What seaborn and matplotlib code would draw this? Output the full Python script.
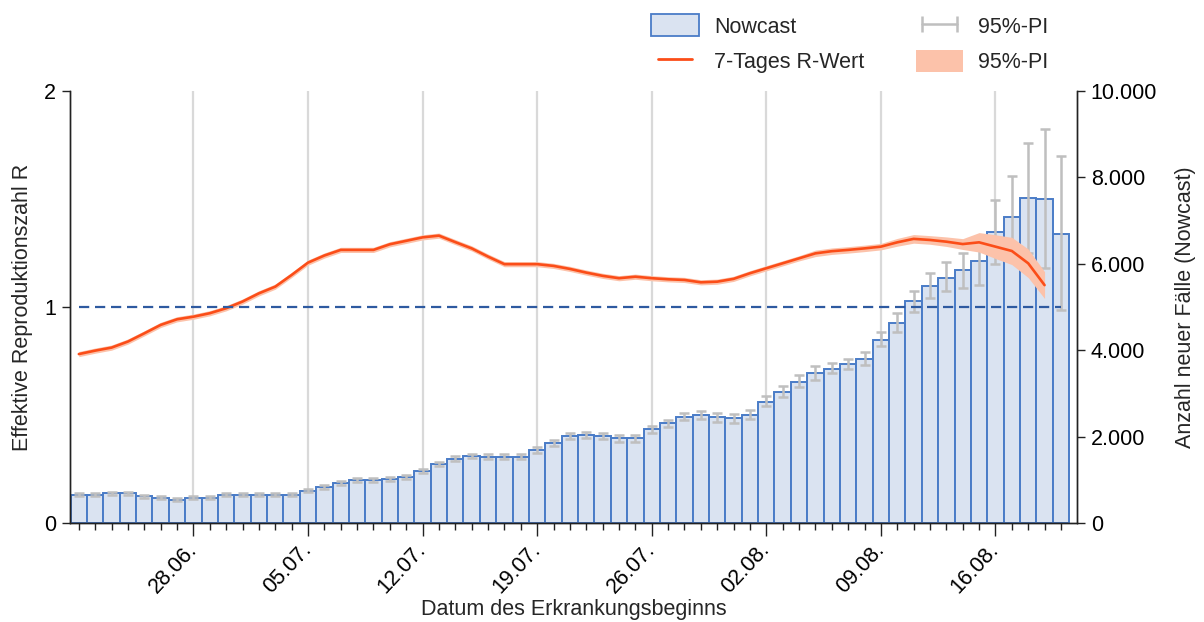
import numpy as np
import pandas as pd
import matplotlib
matplotlib.use("Agg")
import matplotlib.pyplot as plt
from matplotlib.patches import Patch
from matplotlib.lines import Line2D
from matplotlib.ticker import FuncFormatter
import seaborn as sns

# Daten
days = pd.date_range("2020-06-21", "2020-08-20", freq="D")

cases = [650, 650, 690, 690, 620, 580, 540, 580, 580, 650,
         650, 650, 650, 650, 750, 840, 930, 995, 995, 1018,
         1070, 1210, 1370, 1490, 1550, 1535, 1535, 1535, 1690, 1860,
         2014, 2037, 2014, 1960, 1960, 2168, 2307, 2461, 2500, 2446,
         2423, 2500, 2808, 3040, 3272, 3465, 3560, 3678, 3793, 4225,
         4626, 5127, 5490, 5667, 5860, 6052, 6723, 7078, 7517, 7494,
         6692]

pi_low = [620, 620, 660, 660, 590, 550, 510, 550, 550, 620,
          620, 620, 620, 620, 715, 800, 890, 955, 955, 975,
          1025, 1165, 1320, 1440, 1495, 1480, 1480, 1480, 1630, 1795,
          1945, 1965, 1940, 1885, 1885, 2090, 2225, 2375, 2410, 2350,
          2325, 2400, 2700, 2920, 3140, 3320, 3470, 3560, 3660, 4090,
          4430, 4880, 5200, 5360, 5440, 5510, 6000, 6300, 6250, 5900,
          4930]

pi_high = [690, 690, 730, 730, 660, 620, 580, 620, 620, 690,
           690, 690, 690, 690, 790, 885, 975, 1040, 1040, 1065,
           1120, 1260, 1420, 1545, 1610, 1595, 1595, 1595, 1755, 1930,
           2090, 2115, 2090, 2040, 2045, 2250, 2395, 2550, 2595, 2545,
           2525, 2610, 2930, 3175, 3420, 3630, 3700, 3800, 3950, 4420,
           4860, 5360, 5780, 6030, 6250, 6400, 7480, 8020, 8790, 9110,
           8500]

r_value = [0.782, 0.798, 0.812, 0.840, 0.878, 0.917, 0.943, 0.955, 0.971, 0.994,
           1.025, 1.063, 1.094, 1.148, 1.205, 1.238, 1.264, 1.264, 1.264, 1.290,
           1.306, 1.322, 1.330, 1.300, 1.271, 1.233, 1.198, 1.198, 1.198, 1.190,
           1.176, 1.159, 1.144, 1.133, 1.140, 1.133, 1.128, 1.125, 1.114, 1.117,
           1.130, 1.156, 1.179, 1.202, 1.225, 1.248, 1.258, 1.264, 1.271, 1.279,
           1.299, 1.315, 1.310, 1.302, 1.291, 1.299, 1.279, 1.259, 1.202, 1.101]

r_pi_half = [
    0.012, 0.012, 0.012, 0.012, 0.012, 0.012, 0.012, 0.012, 0.012, 0.012,
    0.012, 0.012, 0.012, 0.012, 0.012, 0.012, 0.012, 0.012, 0.012, 0.012,
    0.012, 0.012, 0.012, 0.012, 0.012, 0.012, 0.012, 0.012, 0.012, 0.012,
    0.012, 0.012, 0.012, 0.012, 0.012, 0.012, 0.012, 0.012, 0.012, 0.012,
    0.012, 0.012, 0.012, 0.012, 0.012, 0.015, 0.015, 0.015, 0.015, 0.015,
    0.018, 0.020, 0.020, 0.022, 0.025, 0.045, 0.055, 0.063, 0.066, 0.062]

df = pd.DataFrame({"pos": np.arange(len(days)), "cases": cases,
                   "lo": pi_low, "hi": pi_high})
r_df = pd.DataFrame({"pos": np.arange(len(r_value)), "r": r_value,
                     "half": r_pi_half})

bar_face = "#dae3f1"
bar_edge = "#4a7cc7"
line_col = "#fb4d18"
band_col = "#fcc2aa"
err_col = "#bfbfbf"
dash_col = "#2e5aa0"

sns.set_style("ticks")
plt.rcParams["font.family"] = ["Liberation Sans", "DejaVu Sans"]
fs = 15.5
plt.rcParams["font.size"] = fs

fig = plt.figure(figsize=(12.04, 6.22), dpi=100)
ax = fig.add_axes([0.058, 0.159, 0.8365, 0.695])
ax2 = ax.twinx()
ax.set_zorder(ax2.get_zorder() + 1)
ax.patch.set_visible(False)

# wöchentliche Gitterlinien (Sonntage, ohne den ersten Tag)
major = [i for i, d in enumerate(days) if d.dayofweek == 6 and i > 0]
for p in major:
    ax2.axvline(p, color="#d9d9d9", lw=1.6, zorder=0)

sns.barplot(data=df, x="pos", y="cases", native_scale=True, width=1.0,
            color=bar_face, saturation=1, edgecolor=bar_edge, linewidth=1.4,
            errorbar=None, ax=ax2, zorder=1)
ax2.errorbar(df["pos"], df["cases"],
             yerr=[df["cases"] - df["lo"], df["hi"] - df["cases"]],
             fmt="none", ecolor=err_col, elinewidth=1.8, capsize=3.5,
             capthick=1.8, zorder=3)

ax.fill_between(r_df["pos"], r_df["r"] - r_df["half"], r_df["r"] + r_df["half"],
                color=band_col, linewidth=0, zorder=2)
sns.lineplot(data=r_df, x="pos", y="r", color=line_col, linewidth=1.9, ax=ax,
             zorder=3)
ax.hlines(1.0, df["pos"].iloc[0], df["pos"].iloc[-1], colors=dash_col,
          linewidth=1.6, linestyles=(0, (4.6, 2.6)), zorder=4)

ax.set_xlim(-0.55, 60.98)
ax.set_ylim(0, 2)
ax2.set_ylim(0, 10000)

ax.set_xticks(major)
ax.set_xticklabels([days[i].strftime("%d.%m.") for i in major], rotation=47,
                   ha="right", va="center", rotation_mode="anchor")
ax.set_xticks(df["pos"], minor=True)
ax.set_yticks([0, 1, 2])
ax.set_yticklabels(["0", "1", "2"])
ax2.set_yticks(range(0, 10001, 2000))
ax2.yaxis.set_major_formatter(FuncFormatter(lambda v, p: f"{int(v):,}".replace(",", ".")))

ax.tick_params(axis="x", which="major", length=9, width=1, pad=8, colors="#222222",
               labelcolor="black", labelsize=fs)
ax.tick_params(axis="x", which="minor", length=5, width=1, colors="#222222")
ax.tick_params(axis="y", length=6, width=1, pad=4, colors="#222222",
               labelcolor="black", labelsize=fs)
ax2.tick_params(axis="y", length=6, width=1, pad=4, colors="#222222",
                labelcolor="black", labelsize=fs)

for a in (ax, ax2):
    a.spines["top"].set_visible(False)
    for s in ("left", "right", "bottom"):
        a.spines[s].set_color("#222222")
        a.spines[s].set_linewidth(1.0)

ax.set_xlabel("Datum des Erkrankungsbeginns", labelpad=1, fontsize=fs)
ax.set_ylabel("Effektive Reproduktionszahl R", labelpad=8, fontsize=fs)
ax2.set_ylabel("Anzahl neuer Fälle (Nowcast)", labelpad=13, fontsize=fs)

handles = [
    Patch(facecolor=bar_face, edgecolor=bar_edge, linewidth=1.3),
    Line2D([], [], color=line_col, linewidth=2.0),
    Line2D([], [], color=err_col, linewidth=1.8, marker="|", markersize=12,
           markeredgewidth=1.8),
    Patch(facecolor=band_col, edgecolor="none"),
]
labels = ["Nowcast", "7-Tages R-Wert", "95%-PI", "95%-PI"]
fig.legend(handles, labels, loc="upper left", bbox_to_anchor=(0.525, 1.008),
           ncol=2, frameon=False, numpoints=2, handlelength=2.2,
           handleheight=1.2, handletextpad=0.7, columnspacing=2.4,
           labelspacing=0.55, fontsize=fs)

plt.savefig("out.png", dpi=100)
plt.close()
